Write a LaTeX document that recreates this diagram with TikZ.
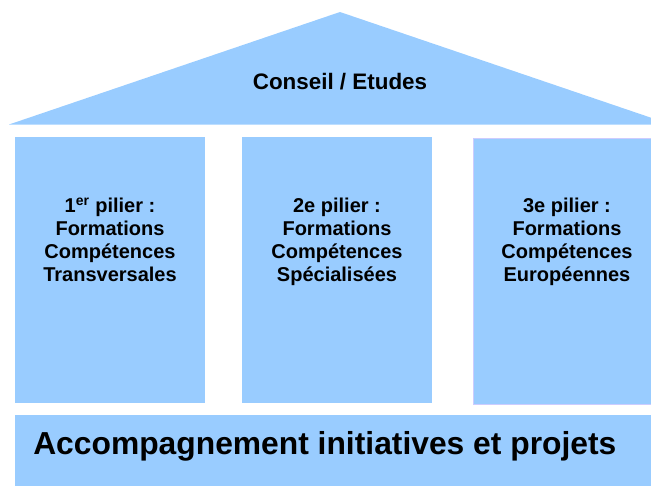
\documentclass[tikz,border=0pt]{standalone}
\usepackage{fontspec}
\setmainfont{Liberation Sans}
\definecolor{pillarblue}{HTML}{99CCFF}
\definecolor{lavender}{HTML}{CCCCFF}
\begin{document}
\begin{tikzpicture}[x=0.75pt,y=-0.75pt,
  blockfill/.style={fill=pillarblue,draw=none},
  pillarbox/.style={blockfill,inner sep=0pt,anchor=north west,minimum width=142.5pt,minimum height=199.5pt},
  pillartext/.style={align=center,inner sep=0pt,font=\fontsize{15}{17.3}\selectfont\bfseries},
]
\useasboundingbox (0,0) rectangle (651,486);
% roof
\path[blockfill] (9,124.5) coordinate (roofL) -- (340,12) coordinate (apex) -- (671,124.5) coordinate (roofR) -- cycle;
\node[inner sep=0pt,font=\fontsize{16.8}{19}\selectfont\bfseries] (roof) at (340,82) {Conseil / Etudes};
% pillars
\node[pillarbox] (p1) at (15,137) {};
\node[pillarbox] (p2) at (242,137) {};
\node[pillarbox,draw=lavender,line width=1.2pt] (p3) at (472.5,137.5) {};
\node[pillartext] (t1) at (110,239.5) {1\smash{\textsuperscript{er}} pilier :\\Formations\\Compétences\\Transversales};
\node[pillartext] (t2) at (337,242) {2e pilier :\\Formations\\Compétences\\Spécialisées};
\node[pillartext] (t3) at (567,242) {3e pilier :\\Formations\\Compétences\\Européennes};
% base
\path[blockfill] (15,415) rectangle (660,490);
\node[inner sep=0pt,anchor=base west,font=\fontsize{23.85}{26}\selectfont\bfseries] (base) at (33,454) {Accompagnement initiatives et projets};
\end{tikzpicture}
\end{document}
